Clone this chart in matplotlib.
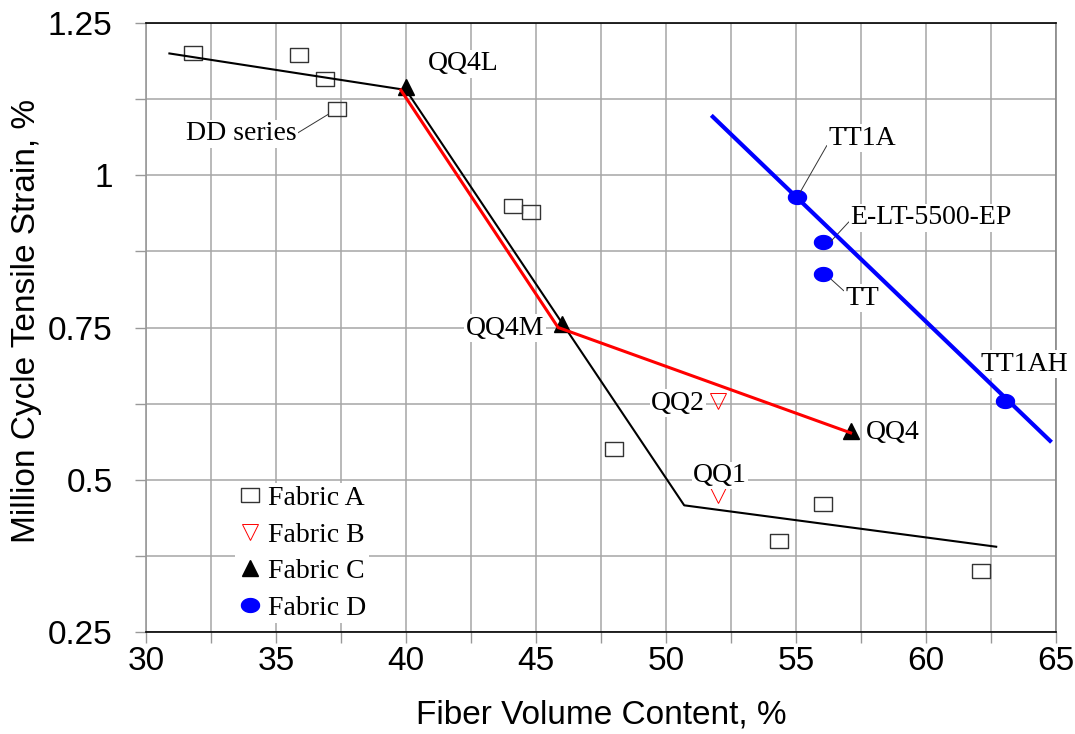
import matplotlib.pyplot as plt
import numpy as np
from matplotlib.ticker import MultipleLocator, FuncFormatter

# Fabric A (DD series etc.)
fabA_x = [31.8, 35.9, 36.9, 37.35, 44.1, 44.8, 48.0, 54.35, 56.05, 62.1]
fabA_y = [1.20, 1.197, 1.158, 1.109, 0.95, 0.94, 0.55, 0.40, 0.46, 0.35]
# Fabric B (QQ2, QQ1)
fabB_x = [52.0, 52.0]
fabB_y = [0.63, 0.475]
# Fabric C (QQ4L, QQ4M, QQ4)
fabC_x = [40.0, 46.0, 57.1]
fabC_y = [1.145, 0.755, 0.58]
# Fabric D (TT1A, E-LT-5500-EP, TT, TT1AH)
fabD_x = [55.05, 56.05, 56.05, 63.05]
fabD_y = [0.964, 0.89, 0.838, 0.63]

# trend lines
black_x = [30.9, 40.0, 50.7, 62.7]
black_y = [1.20, 1.14, 0.458, 0.39]
red_x = [39.8, 45.85, 57.1]
red_y = [1.14, 0.75, 0.577]
blue_x = [51.8, 64.77]
blue_y = [1.096, 0.564]

sans = 'Liberation Sans'
serif = 'Liberation Serif'

rect = [(-1.35, -1), (1.35, -1), (1.35, 1), (-1.35, 1), (-1.35, -1)]
t = np.linspace(0, 2 * np.pi, 40)
ellipse = list(zip(1.3 * np.cos(t), np.sin(t)))

fig = plt.figure(figsize=(10.75, 7.34), dpi=100)
ax = fig.add_axes([146 / 1075, 102 / 734, 910 / 1075, 609 / 734])

ax.plot(black_x, black_y, color='black', lw=1.5, zorder=4)
ax.plot(red_x, red_y, color='red', lw=2.2, zorder=4)
ax.plot(blue_x, blue_y, color='blue', lw=3, zorder=4)

ax.plot(fabA_x, fabA_y, ls='none', marker=rect, ms=13, mfc='none', mec='#333333', mew=1.0,
        label='Fabric A', zorder=3)
ax.plot(fabB_x, fabB_y, ls='none', marker='v', ms=12, mfc='none', mec='red', mew=0.7,
        label='Fabric B', zorder=3)
ax.plot(fabC_x, fabC_y, ls='none', marker='^', ms=11.5, color='black',
        label='Fabric C', zorder=3)
ax.plot(fabD_x, fabD_y, ls='none', marker=ellipse, ms=13, color='blue',
        label='Fabric D', zorder=3)

box = dict(facecolor='white', edgecolor='none', pad=1)
ax.text(42.19, 1.183, 'QQ4L', family=serif, fontsize=20, ha='center', va='center', bbox=box)
ax.text(43.81, 0.749, 'QQ4M', family=serif, fontsize=20, ha='center', va='center', bbox=box)
ax.text(50.46, 0.626, 'QQ2', family=serif, fontsize=20, ha='center', va='center', bbox=box)
ax.text(58.73, 0.577, 'QQ4', family=serif, fontsize=20, ha='center', va='center', bbox=box)
ax.text(52.08, 0.507, 'QQ1', family=serif, fontsize=20, ha='center', va='center', bbox=box)
ax.text(63.77, 0.69, 'TT1AH', family=serif, fontsize=20, ha='center', va='center', bbox=box)

lead = dict(arrowstyle='-', lw=0.7, color='#333333', shrinkA=0, shrinkB=4)
ax.annotate('DD series', xy=(37.2, 1.105), xytext=(33.65, 1.068), family=serif, fontsize=20,
            ha='center', va='center', bbox=box, arrowprops=dict(lead, relpos=(1, 0.5)))
ax.annotate('TT1A', xy=(55.05, 0.964), xytext=(57.54, 1.061), family=serif, fontsize=20,
            ha='center', va='center', bbox=box, arrowprops=dict(lead, relpos=(0, 0.3)))
ax.annotate('E-LT-5500-EP', xy=(56.2, 0.885), xytext=(60.19, 0.93), family=serif, fontsize=20,
            ha='center', va='center', bbox=box, arrowprops=dict(lead, relpos=(0, 0.4)))
ax.annotate('TT', xy=(56.2, 0.835), xytext=(57.54, 0.798), family=serif, fontsize=20,
            ha='center', va='center', bbox=box, arrowprops=dict(lead, relpos=(0, 0.75)))

ax.set_xlim(30, 65)
ax.set_ylim(0.25, 1.25)
ax.xaxis.set_major_locator(MultipleLocator(5))
ax.xaxis.set_minor_locator(MultipleLocator(2.5))
ax.yaxis.set_major_locator(MultipleLocator(0.25))
ax.yaxis.set_minor_locator(MultipleLocator(0.125))
ax.yaxis.set_major_formatter(FuncFormatter(lambda v, p: '{:g}'.format(v)))
ax.grid(True, which='both', color='#a6a6a6', lw=1.1, zorder=0)
ax.set_axisbelow(True)
ax.tick_params(which='both', direction='out', length=8, width=1, color='#999999',
               labelsize=24)
ax.tick_params(axis='y', pad=16)
ax.tick_params(axis='x', pad=2)
for lab in ax.get_xticklabels() + ax.get_yticklabels():
    lab.set_family(sans)

ax.spines['left'].set_color('#999999')
ax.spines['right'].set_color('#888888')
ax.spines['top'].set_color('black')
ax.spines['bottom'].set_color('black')
for s in ax.spines.values():
    s.set_linewidth(1.2)

ax.set_xlabel('Fiber Volume Content, %', family=sans, fontsize=24, labelpad=16)
ax.set_ylabel('Million Cycle Tensile Strain, %', family=sans, fontsize=24)
ax.yaxis.set_label_coords(-0.114, 0.51)

leg = ax.legend(loc='upper left', bbox_to_anchor=(0.0975, 0.245), prop={'family': serif, 'size': 20},
                frameon=True, fancybox=False, edgecolor='none', facecolor='white', framealpha=1,
                handlelength=0.9, handletextpad=0.2, labelspacing=0.4, borderpad=0.1,
                borderaxespad=0)
leg.set_zorder(5)

fig.savefig('out.png', dpi=100)
